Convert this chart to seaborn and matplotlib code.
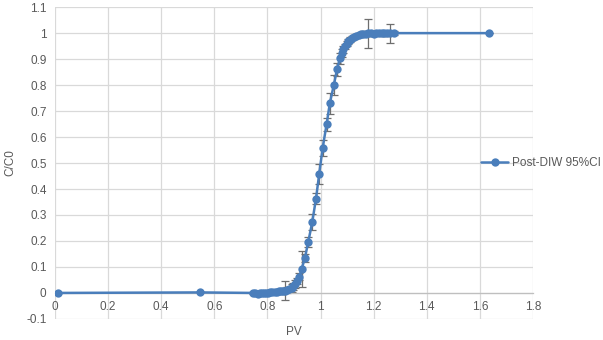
import numpy as np
import pandas as pd
import seaborn as sns
import matplotlib.pyplot as plt

# values
pv = [0.010, 0.548, 0.747, 0.755, 0.763, 0.771, 0.779, 0.787, 0.795, 0.803,
      0.811, 0.819, 0.827, 0.835, 0.843, 0.851, 0.859, 0.867, 0.875, 0.883,
      0.891, 0.898, 0.905, 0.912, 0.920, 0.929, 0.941, 0.954, 0.969, 0.983,
      0.995, 1.008, 1.023, 1.035, 1.050, 1.062, 1.073, 1.080, 1.086, 1.092,
      1.098, 1.105, 1.112, 1.119, 1.127, 1.135, 1.143, 1.152, 1.161, 1.170,
      1.180, 1.190, 1.200, 1.210, 1.220, 1.230, 1.240, 1.250, 1.262, 1.275,
      1.634]
c_c0 = [0.000, 0.002, 0.000, -0.002, -0.003, -0.002, -0.001, 0.000, 0.001, 0.000,
        0.002, 0.003, 0.004, 0.005, 0.006, 0.007, 0.008, 0.009, 0.011, 0.014,
        0.019, 0.025, 0.034, 0.045, 0.063, 0.092, 0.134, 0.197, 0.274, 0.363,
        0.458, 0.558, 0.650, 0.730, 0.800, 0.860, 0.903, 0.922, 0.937, 0.950,
        0.960, 0.968, 0.975, 0.981, 0.986, 0.990, 0.993, 0.995, 0.997, 0.998,
        0.999, 1.000, 0.998, 0.999, 1.000, 0.999, 1.000, 0.999, 1.000, 1.000,
        1.000]
ci95 = [0.000, 0.000, 0.004, 0.004, 0.004, 0.005, 0.005, 0.005, 0.006, 0.006,
        0.006, 0.006, 0.007, 0.008, 0.008, 0.010, 0.012, 0.036, 0.012, 0.010,
        0.015, 0.012, 0.015, 0.012, 0.015, 0.070, 0.015, 0.020, 0.030, 0.020,
        0.040, 0.030, 0.025, 0.040, 0.040, 0.025, 0.020, 0.015, 0.012, 0.010,
        0.010, 0.010, 0.010, 0.008, 0.008, 0.008, 0.008, 0.010, 0.010, 0.010,
        0.057, 0.010, 0.010, 0.008, 0.008, 0.010, 0.010, 0.010, 0.037, 0.008,
        0.000]

df = pd.DataFrame({"PV": pv, "C/C0": c_c0, "err": ci95})

sns.set_style("white")
plt.rcParams['font.family'] = ['Liberation Sans', 'DejaVu Sans']

blue = '#4A7EBB'
grey = '#595959'

fig = plt.figure(figsize=(6.03, 3.4), dpi=100)
ax = fig.add_axes([0.091, 0.062, 0.793, 0.917])

ax.errorbar(df["PV"], df["C/C0"], yerr=df["err"], fmt='none', ecolor='#6E6E6E',
            elinewidth=0.9, capsize=3, capthick=0.9, zorder=2)
sns.lineplot(data=df, x="PV", y="C/C0", sort=False, color=blue, linewidth=1.8,
             marker='o', markersize=6, markeredgewidth=0, label='Post-DIW 95%CI',
             ax=ax, zorder=3)

ax.set_xlim(0, 1.8)
ax.set_ylim(-0.1, 1.1)
xt = np.round(np.arange(0, 1.81, 0.2), 1)
yt = np.round(np.arange(-0.1, 1.11, 0.1), 1)
ax.set_xticks(xt)
ax.set_xticklabels([f'{v:g}' for v in xt])
ax.set_yticks(yt)
ax.set_yticklabels([f'{v:g}' for v in yt])

ax.grid(True, color='#D9D9D9', linewidth=0.9)
ax.set_axisbelow(True)
for s in ['top', 'right', 'left']:
    ax.spines[s].set_visible(False)
ax.spines['bottom'].set_position(('data', 0))
ax.spines['bottom'].set_color('#BFBFBF')
ax.spines['bottom'].set_linewidth(0.9)
ax.tick_params(axis='both', length=0, labelsize=8.5, colors=grey)
ax.tick_params(axis='x', pad=6)
ax.tick_params(axis='y', pad=6)

ax.set_xlabel('PV', fontsize=8.5, color=grey, labelpad=9)
ax.set_ylabel('C/C0', fontsize=8.5, color=grey, labelpad=7)

leg = ax.legend(loc='center left', bbox_to_anchor=(0.798, 0.52),
                bbox_transform=fig.transFigure, frameon=False, fontsize=8.5,
                handlelength=2.3, handletextpad=0.35, borderpad=0, borderaxespad=0)
for t in leg.get_texts():
    t.set_color(grey)

fig.savefig('out.png', dpi=100)
